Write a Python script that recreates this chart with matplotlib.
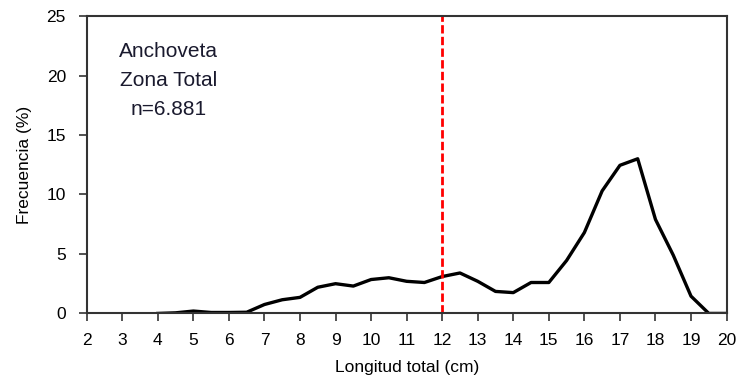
import matplotlib
matplotlib.use("Agg")
import matplotlib.pyplot as plt

# datos: longitud total (cm) y frecuencia (%)
longitud = [4, 4.5, 5, 5.5, 6, 6.5, 7, 7.5, 8, 8.5, 9, 9.5, 10, 10.5, 11, 11.5,
            12, 12.5, 13, 13.5, 14, 14.5, 15, 15.5, 16, 16.5, 17, 17.5, 18,
            18.5, 19, 19.5, 20]
frecuencia = [0.0, 0.05, 0.2, 0.08, 0.08, 0.1, 0.75, 1.15, 1.35, 2.2, 2.5, 2.3,
              2.85, 3.0, 2.7, 2.6, 3.1, 3.4, 2.7, 1.85, 1.75, 2.6, 2.6, 4.45,
              6.8, 10.3, 12.45, 13.0, 7.9, 4.9, 1.45, 0.0, 0.0]
talla_minima = 12
yticks = [0, 5, 10, 15, 20, 25]
xticks = list(range(2, 21))

plt.rcParams['font.family'] = ['Liberation Sans', 'DejaVu Sans']

fig = plt.figure(figsize=(7.38, 3.86), dpi=100)
ax = fig.add_axes([0.1175, 0.188, 0.867, 0.7705])

ax.plot(longitud, frecuencia, color='black', lw=2.4, solid_joinstyle='round')
ax.axvline(talla_minima, color='#ff0000', lw=2, ls=(0, (3, 1.2)))

ax.set_xlim(2, 20)
ax.set_ylim(0, 25)
ax.set_xticks(xticks)
ax.set_yticks(yticks)
ax.tick_params(direction='out', length=6, width=1.2, labelsize=12.5, color='#333333')
ax.tick_params(axis='x', pad=8)
ax.tick_params(axis='y', pad=9)
for s in ax.spines.values():
    s.set_linewidth(1.5)
    s.set_color('#333333')

ax.set_xlabel("Longitud total (cm)", fontsize=12.5, labelpad=9)
ax.set_ylabel("Frecuencia (%)", fontsize=12.5, labelpad=10)

ax.text(4.3, 22.8, "Anchoveta\nZona Total\nn=6.881", ha='center', va='top',
        fontsize=15, linespacing=1.65, color='#1a1a2e')

fig.savefig("out.png", dpi=100)
